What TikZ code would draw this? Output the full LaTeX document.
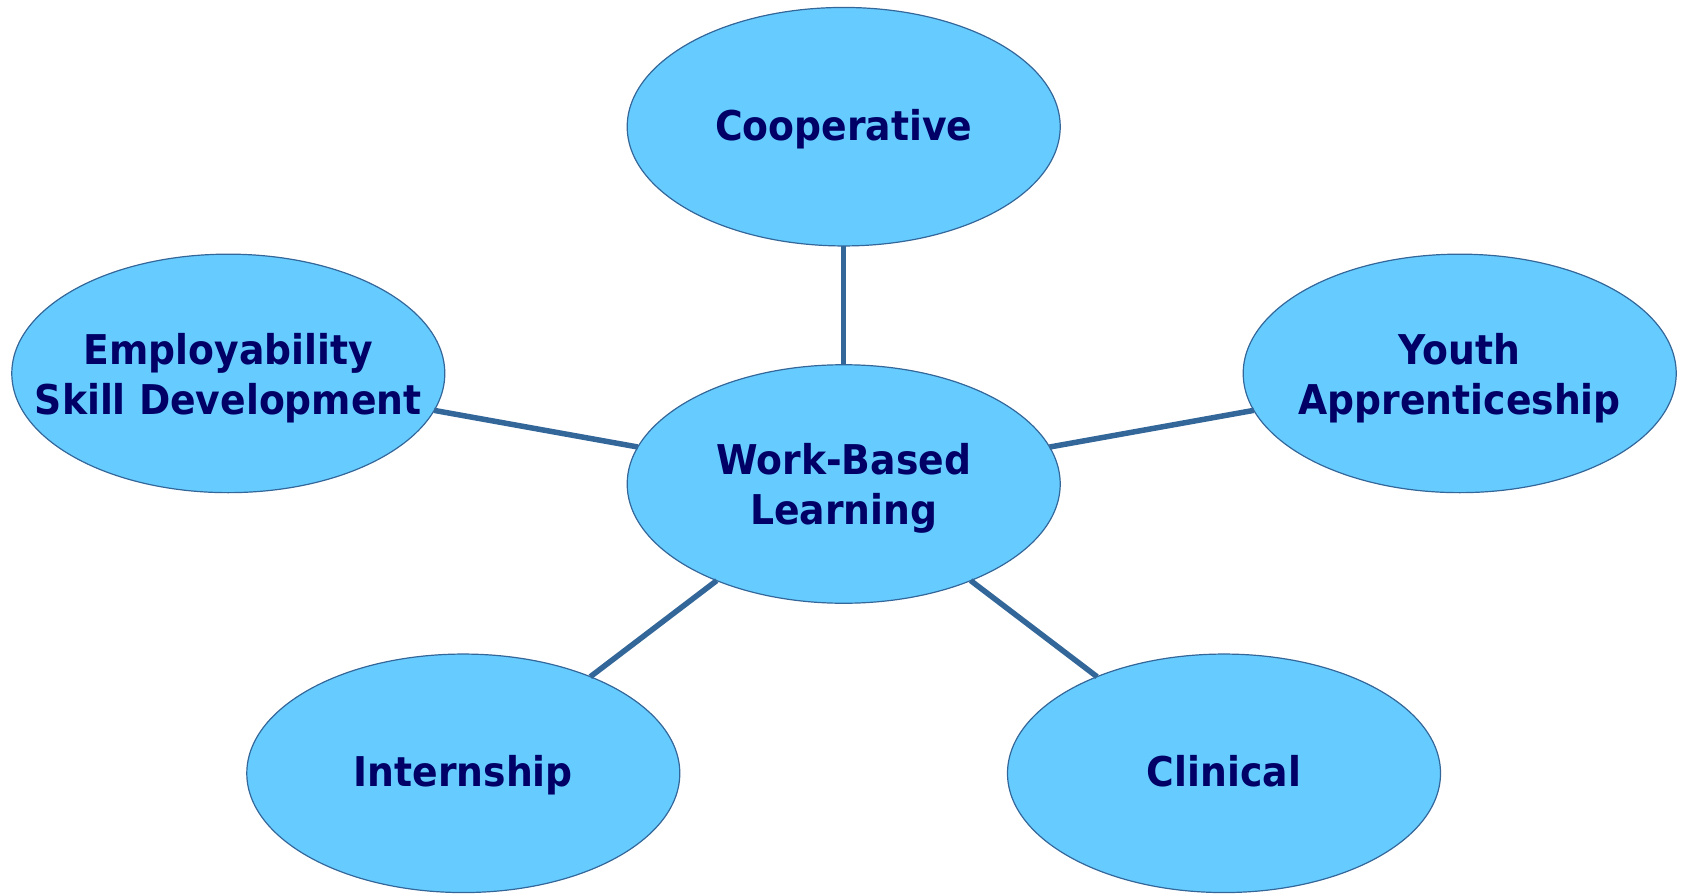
\documentclass[tikz,border=0pt]{standalone}
\usepackage{fontspec}
\newfontfamily\lblfont{DejaVu Sans}[FakeStretch=0.92]
\usetikzlibrary{shapes.geometric}
\definecolor{bubfill}{HTML}{66CCFF}
\definecolor{bubline}{HTML}{336699}
\definecolor{linkcol}{HTML}{336699}
\definecolor{txtcol}{HTML}{000066}
\begin{document}
\begin{tikzpicture}[x=1pt,y=-1pt,
  bub/.style={ellipse, draw=bubline, line width=1.2pt, fill=bubfill,
    minimum width=433pt, minimum height=238.5pt, inner sep=0pt, outer sep=0pt},
  link/.style={draw=linkcol, line width=5.5pt},
  lbl/.style={text=txtcol, font=\lblfont\bfseries\fontsize{41}{50}\selectfont, align=center, inner sep=0pt},
  txtone/.style={lbl, anchor=base, yshift=-13.4pt},
  txttwo/.style={lbl, anchor=center, yshift=-4.5pt}]
\useasboundingbox (0,0) rectangle (1683,896);
\node[bub] (wbl) at (843.7,484) {};
\node[bub] (coop) at (843.7,126.7) {};
\node[bub] (emp) at (228.3,373.4) {};
\node[bub] (youth) at (1459.7,373.4) {};
\node[bub] (intern) at (463.3,773.3) {};
\node[bub] (clin) at (1224,773.3) {};
\draw[link] (wbl) -- (coop);
\draw[link] (wbl) -- (emp);
\draw[link] (wbl) -- (youth);
\draw[link] (wbl) -- (intern);
\draw[link] (wbl) -- (clin);
\node[txttwo] (wblt) at (wbl.center) {Work-Based\\Learning};
\node[txtone] (coopt) at (coop.center) {Cooperative};
\node[txttwo] (empt) at (emp.center) {Employability\\Skill Development};
\node[txttwo] (youtht) at (youth.center) {Youth\\Apprenticeship};
\node[txtone] (interntt) at (intern.center) {Internship};
\node[txtone] (clint) at (clin.center) {Clinical};
\end{tikzpicture}
\end{document}
